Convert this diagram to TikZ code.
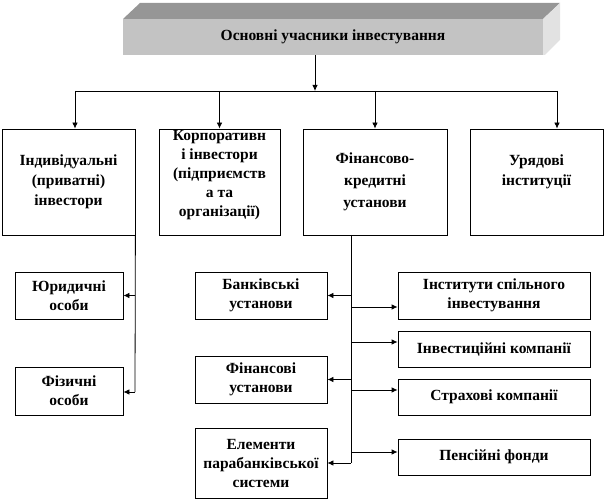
\documentclass[tikz,border=0pt]{standalone}
\usepackage{fontspec}
\setmainfont{Liberation Serif}
\usetikzlibrary{arrows.meta}
\definecolor{frontc}{RGB}{195,195,195}
\definecolor{topc}{RGB}{150,150,150}
\definecolor{sidec}{RGB}{226,226,226}
\begin{document}
\begin{tikzpicture}[x=1pt,y=-1pt,
  box/.style={draw=black,line width=0.8pt,fill=white,inner sep=0pt,align=center,font=\bfseries\fontsize{15.5}{19}\selectfont},
  txt/.style={inner sep=0pt,align=center,font=\bfseries\fontsize{15.5}{19}\selectfont},
  conn/.style={line width=0.8pt},
  arr/.style={line width=0.8pt,-{Latex[length=6pt,width=5.5pt]}}]
\useasboundingbox (0,0) rectangle (606,502);
% title block (3D)
\fill[topc] (123,19) -- (140,3) -- (560,3) -- (543,19) -- cycle;
\fill[sidec] (543,19) -- (560,3) -- (560,40) -- (545,55) -- (543,55) -- cycle;
\node[fill=frontc,minimum width=420pt,minimum height=36pt,inner sep=0pt,
      font=\bfseries\fontsize{15.5}{19}\selectfont] (title) at (333,37) {Основні учасники інвестування};
% second row
\node[box,minimum width=133pt,minimum height=106pt,font=\bfseries\fontsize{15.5}{20}\selectfont] (b1) at (68.5,182) {Індивідуальні\\(приватні)\\інвестори};
\node[box,minimum width=121pt,minimum height=106pt] (b2) at (219.5,182) {};
\node[txt] (b2t) at (219.5,175) {Корпоративн\\і інвестори\\(підприємств\\а та\\організації)};
\node[box,minimum width=144pt,minimum height=106pt,font=\bfseries\fontsize{15.5}{22}\selectfont] (b3) at (375,182) {Фінансово-\\кредитні\\установи};
\node[box,minimum width=133pt,minimum height=106pt] (b4) at (536.5,182) {};
\node[txt,font=\bfseries\fontsize{15.5}{20}\selectfont] (b4t) at (536.5,172) {Урядові\\інституції};
% left column
\node[box,minimum width=108pt,minimum height=47pt] (yur) at (69,295.5) {Юридичні\\особи};
\node[box,minimum width=108pt,minimum height=48pt] (fiz) at (69,391) {Фізичні\\особи};
% middle column
\node[box,minimum width=132pt,minimum height=47pt] (bank) at (261,295.5) {Банківські\\установи};
\node[box,minimum width=132pt,minimum height=47pt] (fin) at (261,379.5) {Фінансові\\установи};
\node[box,minimum width=132pt,minimum height=70pt] (elem) at (261,463) {Елементи\\парабанківської\\системи};
% right column
\node[box,minimum width=192pt,minimum height=47pt] (inst) at (494,295.5) {Інститути спільного\\інвестування};
\node[box,minimum width=192pt,minimum height=36pt] (inv) at (494,349) {Інвестиційні компанії};
\node[box,minimum width=192pt,minimum height=36pt] (strah) at (494,397) {Страхові компанії};
\node[box,minimum width=192pt,minimum height=36pt] (pens) at (494,457) {Пенсійні фонди};
% top connectors
\coordinate (split) at (315,91);
\coordinate (hl) at (75,91);
\coordinate (hr) at (557,91);
\draw[arr] (title.south -| split) -- (split);
\draw[conn] (hl) -- (hr);
\draw[arr] (hl) -- (hl |- b1.north);
\draw[arr] (b2.north |- hl) -- (b2.north);
\draw[arr] (b3.north |- hl) -- (b3.north);
\draw[arr] (hr) -- (hr |- b4.north);
% left trunk
\coordinate (t1) at (135,392);
\draw[conn] (b1.south east) -- (t1);
\draw[arr] (b1.south east |- yur.east) -- (yur.east);
\draw[arr] (t1) -- (t1 -| fiz.east);
% middle trunk
\coordinate (t3a) at (351,235);
\coordinate (t3b) at (351,463);
\draw[conn] (t3a) -- (t3b);
\draw[arr] (t3a |- bank.east) -- (bank.east);
\draw[arr] (t3a |- fin.east) -- (fin.east);
\draw[arr] (t3b) -- (elem.east);
\coordinate (r1) at (351,307);
\coordinate (r2) at (351,342);
\coordinate (r3) at (351,390);
\coordinate (r4) at (351,452);
\draw[arr] (r1) -- (r1 -| inst.west);
\draw[arr] (r2) -- (r2 -| inv.west);
\draw[arr] (r3) -- (r3 -| strah.west);
\draw[arr] (r4) -- (r4 -| pens.west);
\end{tikzpicture}
\end{document}
